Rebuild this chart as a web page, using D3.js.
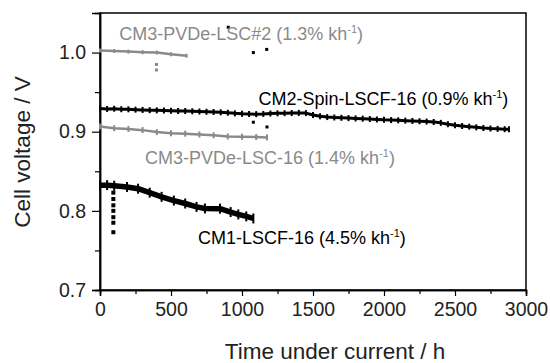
<!DOCTYPE html>
<html>
<head>
<meta charset="utf-8">
<script src="https://cdn.jsdelivr.net/npm/d3@7"></script>
<style>
  body { margin: 0; background: #fff; }
  text { font-family: "Liberation Sans", Arial, sans-serif; }
</style>
</head>
<body>
<svg id="chart" width="550" height="363"></svg>
<script>
// time (h) and cell voltage (V)
let cm2Time = [0, 50, 100, 150, 200, 250, 300, 350, 400, 450, 500, 550, 600, 650, 700, 750, 800, 850, 900, 950,
  1000, 1050, 1100, 1150, 1200, 1250, 1300, 1350, 1400, 1450, 1500, 1550, 1600, 1650, 1700, 1750, 1800, 1850, 1900, 1950,
  2000, 2050, 2100, 2150, 2200, 2250, 2300, 2350, 2400, 2450, 2500, 2550, 2600, 2650, 2700, 2750, 2800, 2850, 2880];
let cm2Volt = [0.9292, 0.9288, 0.9290, 0.9284, 0.9283, 0.9279, 0.9275, 0.9272, 0.9270, 0.9268, 0.9266, 0.9262, 0.9261, 0.9258, 0.9255, 0.9252, 0.9249, 0.9245, 0.9240, 0.9232,
  0.9226, 0.9224, 0.9222, 0.9225, 0.9230, 0.9232, 0.9234, 0.9236, 0.9238, 0.9235, 0.9212, 0.9195, 0.9185, 0.9180, 0.9176, 0.9172, 0.9168, 0.9165, 0.9160, 0.9155,
  0.9150, 0.9147, 0.9144, 0.9140, 0.9136, 0.9132, 0.9128, 0.9123, 0.9112, 0.9095, 0.9082, 0.9072, 0.9064, 0.9055, 0.9046, 0.9040, 0.9036, 0.9032, 0.9030];
let cm2OutTime = [903, 1080, 1174, 1080, 1176];
let cm2OutVolt = [1.032, 1.000, 1.004, 0.912, 0.906];

let lsc16Time = [0, 100, 200, 300, 400, 500, 600, 700, 800, 900, 1000, 1100, 1176];
let lsc16Volt = [0.9065, 0.9045, 0.9035, 0.9020, 0.8995, 0.8980, 0.8975, 0.8965, 0.8955, 0.8940, 0.8935, 0.8932, 0.8928];

let lsc2Time = [0, 100, 200, 300, 400, 500, 610];
let lsc2Volt = [1.0027, 1.0020, 1.0012, 1.0005, 1.0000, 0.9978, 0.9960];
let lsc2OutTime = [398, 398];
let lsc2OutVolt = [0.985, 0.978];

let cm1Time = [0, 50, 100, 190, 268, 350, 434, 520, 600, 680, 739, 845, 920, 974, 1030, 1080];
let cm1Volt = [0.8324, 0.8325, 0.8318, 0.8302, 0.8280, 0.8230, 0.8177, 0.8130, 0.8093, 0.8050, 0.8030, 0.8028, 0.7985, 0.7955, 0.7930, 0.7904];
let cm1OutTime = [94, 94, 94, 94, 94, 94, 94];
let cm1OutVolt = [0.823, 0.815, 0.807, 0.800, 0.792, 0.785, 0.773];

let xTicks = [0, 500, 1000, 1500, 2000, 2500, 3000];
let yTicks = [0.7, 0.8, 0.9, 1.0];

let gray = "#8a8a8a";

let svg = d3.select("#chart");
let width = 550, height = 363;
let margin = {left: 100, right: 24, top: 13, bottom: 73};

let x = d3.scaleLinear().domain([0, 3000]).range([margin.left, width - margin.right]);
let y = d3.scaleLinear().domain([0.7, 1.05]).range([height - margin.bottom, margin.top]);

// frame
svg.append("rect")
  .attr("x", x(0)).attr("y", y(1.05))
  .attr("width", x(3000) - x(0)).attr("height", y(0.7) - y(1.05))
  .attr("fill", "none").attr("stroke", "#000").attr("stroke-width", 1.5);

// axes, major + minor
let axisX = svg.append("g").attr("transform", `translate(0,${y(0.7)})`);
axisX.call(d3.axisBottom(x).tickValues(d3.range(250, 3000, 500)).tickSize(4).tickFormat(""));
axisX.call(g => g.append("g").call(d3.axisBottom(x).tickValues(xTicks).tickSize(6).tickPadding(6).tickFormat(d3.format("d"))));

let axisY = svg.append("g").attr("transform", `translate(${x(0)},0)`);
axisY.call(d3.axisLeft(y).tickValues([0.75, 0.85, 0.95]).tickSize(5).tickFormat(""));
axisY.call(g => g.append("g").call(d3.axisLeft(y).tickValues(yTicks).tickSize(8).tickPadding(6).tickFormat(d3.format(".1f"))));

svg.selectAll(".domain").attr("stroke", "#000").attr("stroke-width", 1.5);
svg.selectAll(".tick line").attr("stroke", "#000").attr("stroke-width", 1.2);
svg.selectAll(".tick text").attr("font-size", 19.5).attr("fill", "#222")
  .attr("font-family", "Liberation Sans, Arial, sans-serif");

// series
let series = [
  {t: lsc2Time, v: lsc2Volt, color: gray, w: 2.5, tick: 2, dot: 3, ot: lsc2OutTime, ov: lsc2OutVolt},
  {t: lsc16Time, v: lsc16Volt, color: gray, w: 2.5, tick: 3, dot: 3, ot: [], ov: []},
  {t: cm2Time, v: cm2Volt, color: "#000", w: 3, tick: 3, dot: 3, ot: cm2OutTime, ov: cm2OutVolt},
  {t: cm1Time, v: cm1Volt, color: "#000", w: 5.5, tick: 5, dot: 4, ot: cm1OutTime, ov: cm1OutVolt}
];

let line = d3.line().x(d => x(d[0])).y(d => y(d[1])).curve(d3.curveLinear);
let mainG = svg.append("g").attr("class", "main");

series.forEach(s => {
  let pts = s.t.map((t, i) => [t, s.v[i]]);
  mainG.append("path")
    .attr("d", line(pts))
    .attr("fill", "none")
    .attr("stroke", s.color)
    .attr("stroke-width", s.w)
    .attr("stroke-linejoin", "round");
  mainG.append("g").selectAll("line")
    .data(pts)
    .join("line")
      .attr("x1", d => x(d[0])).attr("x2", d => x(d[0]))
      .attr("y1", d => y(d[1]) - s.tick).attr("y2", d => y(d[1]) + s.tick)
      .attr("stroke", s.color).attr("stroke-width", 2);
  mainG.append("g").selectAll("rect")
    .data(s.ot.map((t, i) => [t, s.ov[i]]))
    .join("rect")
      .attr("x", d => x(d[0]) - s.dot / 2).attr("y", d => y(d[1]) - s.dot / 2)
      .attr("width", s.dot).attr("height", s.dot)
      .attr("fill", s.color);
});

// series labels
let labels = [
  {text: "CM3-PVDe-LSC#2 (1.3% kh", t: 135, v: 1.0155, color: gray},
  {text: "CM2-Spin-LSCF-16 (0.9% kh", t: 1116, v: 0.9335, color: "#000"},
  {text: "CM3-PVDe-LSC-16 (1.4% kh", t: 317, v: 0.8595, color: gray},
  {text: "CM1-LSCF-16 (4.5% kh", t: 690, v: 0.7575, color: "#000"}
];

labels.forEach(l => {
  let txt = svg.append("text")
    .attr("x", x(l.t)).attr("y", y(l.v))
    .attr("font-size", 18).attr("fill", l.color);
  txt.append("tspan").text(l.text);
  txt.append("tspan").text("-1").attr("font-size", 11).attr("dy", -7);
  txt.append("tspan").text(")").attr("dy", 7);
});

// axis titles
svg.append("text")
  .attr("x", 335).attr("y", 359)
  .attr("text-anchor", "middle")
  .attr("font-size", 22.5).attr("fill", "#222")
  .text("Time under current / h");

svg.append("text")
  .attr("transform", `translate(30,${152}) rotate(-90)`)
  .attr("text-anchor", "middle")
  .attr("font-size", 22.5).attr("fill", "#222")
  .text("Cell voltage / V");
</script>
</body>
</html>
